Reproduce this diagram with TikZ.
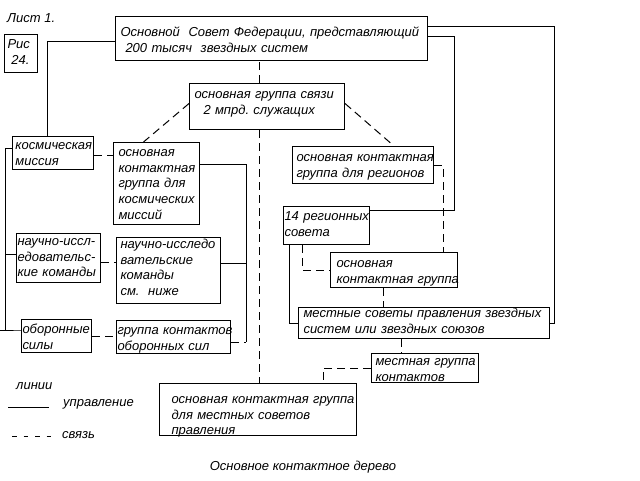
\documentclass[tikz,border=0pt]{standalone}
\usepackage{fontspec}
\setmainfont{Liberation Sans}
\tikzset{mybox/.style={
  draw=black,
  anchor=north west,
  align=left,
  inner xsep=3pt,
  inner ysep=0pt,
  line width=1pt,
  font=\fontsize{13}{15.7}\selectfont\itshape,
  }
}
\tikzset{mytext/.style={
  anchor=base west,
  inner sep=0pt,
  font=\fontsize{13}{15.7}\selectfont\itshape,
  }
}
\tikzset{myline/.style={
  draw=black,
  line width=1pt,
  }
}
\tikzset{mylink/.style={
  draw=black,
  line width=1pt,
  dash pattern=on 8pt off 5pt,
  }
}

\begin{document}
\begin{tikzpicture}[x=1pt,y=-1pt]
      \useasboundingbox (0,0) rectangle (640,480);

      % boxes
      \node [mytext] (list) at (7,22) {Лист 1.};
      \node [mybox, text width=27pt, text height=14pt, text depth=24pt] (ris) at (4,34) {Рис\\\hspace*{4pt}24.};
      \node [mybox, inner xsep=5pt, text width=302pt, text height=20pt, text depth=24pt] (main) at (115,16)
        {Основной~~Совет~Федерации,~представляющий\\\hspace*{5pt}200~тысяч~~звездных~систем};
      \node [mybox, inner xsep=5pt, text width=145pt, text height=15pt, text depth=31pt] (comm) at (189,83)
        {основная~группа~связи\\\hspace*{9pt}2~мпрд.~служащих};
      \node [mybox, text width=75pt, text height=13pt, text depth=20pt] (space) at (12,136) {космическая\\миссия};
      \node [mybox, inner xsep=5pt, text width=76pt, text height=14pt, text depth=68pt] (spacegr) at (113,142)
        {основная\\контактная\\группа~для\\космических\\миссий};
      \node [mybox, inner xsep=1pt, text width=82pt, text height=12pt, text depth=37pt] (sci) at (16,233)
        {\mbox{научно-иссл-}\\едовательс-\\кие~команды};
      \node [mybox, inner xsep=4pt, text width=96pt, text height=11pt, text depth=55pt] (scigr) at (116,237)
        {\mbox{научно-исследо}\\вательские\\команды\\см.~~ниже};
      \node [mybox, inner xsep=1pt, text width=68pt, text height=14pt, text depth=19pt] (def) at (21,319) {оборонные\\силы};
      \node [mybox, inner xsep=1pt, text width=112pt, text height=14pt, text depth=19pt] (defgr) at (116,320)
        {группа~контактов\\оборонных~сил};
      \node [mybox, inner xsep=4pt, text width=133pt, text height=15pt, text depth=22pt] (reggr) at (292,146)
        {основная~контактная\\группа~для~регионов};
      \node [mybox, inner xsep=1pt, text width=84pt, text height=14pt, text depth=24pt] (reg) at (283,206)
        {14~регионных\\совета};
      \node [mybox, inner xsep=6pt, text width=115pt, text height=15pt, text depth=20pt] (regcg) at (330,252)
        {основная\\контактная~группа};
      \node [mybox, inner xsep=5pt, text width=241pt, text height=10pt, text depth=21pt] (local) at (298,307)
        {местные~советы~правления~звездных\\систем~или~звездных~союзов};
      \node [mybox, inner xsep=4pt, text width=99pt, text height=12pt, text depth=17pt] (localgr) at (371,353)
        {местная~группа\\контактов};
      \node [mybox, inner xsep=12pt, text width=173pt, text height=20pt, text depth=32pt] (localmain) at (159,383)
        {основная~контактная~группа\\для~местных~советов\\правления};

      % legend and caption
      \node [mytext] (lines) at (16,389) {линии};
      \node [mytext] (ctrl) at (63,406) {управление};
      \node [mytext] (link) at (62,438) {связь};
      \node [mytext, anchor=base] (caption) at (303,470) {Основное контактное дерево};
      \draw [myline] ([xshift=-55pt,yshift=-1pt]ctrl.base west) -- ([xshift=-14pt,yshift=-1pt]ctrl.base west);
      \draw [mylink, dash pattern=on 4.5pt off 7pt] ([xshift=-50pt,yshift=2pt]link.base west) -- ([xshift=-6pt,yshift=2pt]link.base west);

      % management lines
      \draw [myline] ([yshift=-3pt]main.west) -| ([xshift=35pt]space.north west);
      \draw [myline] ([yshift=12pt]main.east) -| ([xshift=4pt]local.east) -- (local.east);
      \draw [myline] ([yshift=2pt]main.east) -| ([xshift=84pt,yshift=15pt]reg.east) -- ([yshift=15pt]reg.east);
      \draw [myline] ([yshift=5pt]space.west) -- ++(-7pt,0) |- ([yshift=6pt]def.west) -- ++(-21pt,0);
      \draw [myline] ([yshift=4pt]sci.west) -- ++(-11pt,0);
      \coordinate (defjoin) at ([xshift=15pt,yshift=-5pt]defgr.east);
      \draw [myline] ([yshift=19pt]spacegr.east) -| (defjoin);
      \draw [myline] ([yshift=7pt]scigr.east) -- ([yshift=7pt]scigr.east -| defjoin);
      \draw [myline] ([xshift=6pt]reg.south west) |- (local.west);

      % contact lines
      \draw [mylink] ([xshift=-7.5pt]comm.north) -- ([xshift=-7.5pt]comm.north |- main.south);
      \draw [mylink] ([xshift=-7.5pt]comm.south) -- ([xshift=-7.5pt]comm.south |- localmain.north);
      \draw [mylink] ([yshift=3pt]comm.west) -- ([xshift=-13pt]spacegr.north);
      \draw [mylink] ([yshift=3pt]comm.east) -- ([xshift=31pt]reggr.north);
      \draw [mylink] ([yshift=-2pt]space.east) -- ([yshift=-2pt]space.east -| spacegr.west);
      \draw [mylink] ([yshift=-4pt]sci.east) -- ([yshift=-4pt]sci.east -| scigr.west);
      \draw [mylink] (def.east) -- (def.east -| defgr.west);
      \draw [mylink] ([yshift=-5pt]defgr.east) -- (defjoin);
      \draw [mylink] (reggr.east) -| ([xshift=-15pt]regcg.north east);
      \draw [mylink] ([xshift=19pt]reg.south west) |- (regcg.west);
      \draw [mylink] ([xshift=53pt]regcg.south west) -- ([xshift=53pt]regcg.south west |- local.north);
      \draw [mylink] ([xshift=103pt]local.south west) -- ([xshift=103pt]local.south west |- localgr.north);
      \draw [mylink] (localgr.west) -| ([xshift=164pt]localmain.north west);
\end{tikzpicture}
\end{document}
